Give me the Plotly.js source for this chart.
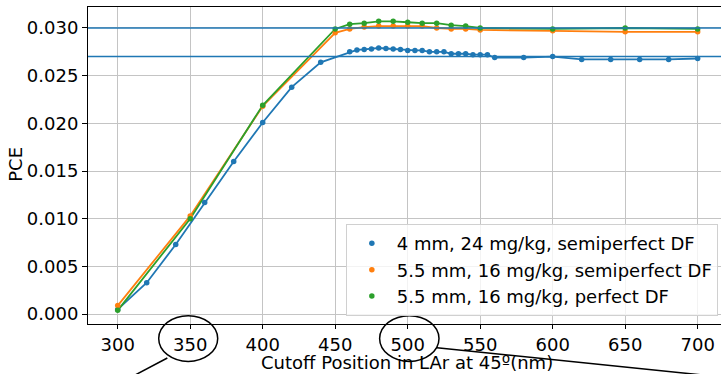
<!DOCTYPE html>
<html>
<head>
<meta charset="utf-8">
<script src="https://cdn.plot.ly/plotly-3.0.1.min.js"></script>
<style>html,body{margin:0;padding:0;background:#fff;}#chart{width:721px;height:374px;}</style>
</head>
<body>
<div id="chart"></div>
<script>
// Series 1: 4 mm, 24 mg/kg, semiperfect DF
const xBlue = [300,320,340,360,380,400,420,440,460,465,470,475,480,485,490,495,500,505,510,515,520,525,530,535,540,545,550,555,560,580,600,620,640,660,680,700];
const yBlue = [0.0005,0.0033,0.0073,0.0117,0.0160,0.0201,0.0238,0.0264,0.0275,0.0277,0.02775,0.0278,0.0279,0.02785,0.0278,0.02775,0.02765,0.02765,0.02765,0.0275,0.0275,0.0275,0.0273,0.0273,0.0273,0.0272,0.0272,0.0272,0.0269,0.0269,0.0270,0.0267,0.0267,0.0267,0.0267,0.0268];
// Series 2 and 3 share positions
const xDF = [300,350,400,450,460,470,480,490,500,510,520,530,540,550,600,650,700];
const yOrange = [0.0009,0.0103,0.0218,0.0295,0.0299,0.0301,0.0302,0.0302,0.0302,0.0302,0.0300,0.0299,0.0299,0.0298,0.0297,0.0296,0.0296];
const yGreen = [0.0004,0.0100,0.0219,0.0299,0.0304,0.0305,0.0307,0.0307,0.0306,0.0305,0.0305,0.0303,0.0302,0.0300,0.0299,0.0300,0.0299];
const names = ["4 mm, 24 mg/kg, semiperfect DF","5.5 mm, 16 mg/kg, semiperfect DF","5.5 mm, 16 mg/kg, perfect DF"];
const refLines = [0.030, 0.027];
const xTicks = [300,350,400,450,500,550,600,650,700];
const yTicks = [0,0.005,0.010,0.015,0.020,0.025,0.030];
const yTickText = ["0.000","0.005","0.010","0.015","0.020","0.025","0.030"];
const xTitle = 'Cutoff Position in LAr at 45º(nm)';
const yTitle = 'PCE';

const colors = ["#1f77b4","#ff7f0e","#2ca02c"];
const series = [[xBlue,yBlue],[xDF,yOrange],[xDF,yGreen]];
const traces = [];
series.forEach((s,i)=>{
  traces.push({x:s[0],y:s[1],mode:'lines',type:'scatter',line:{color:colors[i],width:1.8},showlegend:false,hoverinfo:'skip'});
});
series.forEach((s,i)=>{
  traces.push({x:s[0],y:s[1],mode:'markers',type:'scatter',name:names[i],marker:{color:colors[i],size:5.5}});
});

const shapes = refLines.map(v=>({type:'line',xref:'paper',yref:'y',x0:0,x1:1,y0:v,y1:v,line:{color:'#1f77b4',width:1.5},layer:'above'}));
// hand-drawn style circles and pointer lines
shapes.push({type:'circle',xref:'paper',yref:'paper',x0:0.1117,x1:0.2049,y0:0.0262,y1:-0.118,line:{color:'#000',width:1.5}});
shapes.push({type:'circle',xref:'paper',yref:'paper',x0:0.4607,x1:0.5545,y0:0.0262,y1:-0.118,line:{color:'#000',width:1.5}});
shapes.push({type:'line',xref:'paper',yref:'paper',x0:0.1253,y0:-0.1073,x1:0.0664,y1:-0.1694,line:{color:'#000',width:1.5}});
shapes.push({type:'line',xref:'paper',yref:'paper',x0:0.5513,y0:-0.075,x1:1.0126,y1:-0.1694,line:{color:'#000',width:1.5}});

const font = {family:'DejaVu Sans, sans-serif',size:18,color:'#000'};
const annotations = [
  {text:xTitle,xref:'paper',yref:'paper',x:0.504,y:-0.122,xanchor:'center',yanchor:'middle',showarrow:false,font:font},
  {text:yTitle,xref:'paper',yref:'paper',x:-0.1137,y:0.5025,xanchor:'center',yanchor:'middle',textangle:-90,showarrow:false,font:font}
];
const layout = {
  width:721,height:374,
  margin:{l:88,r:0,t:7,b:50},
  paper_bgcolor:'#fff',plot_bgcolor:'#fff',
  font:font,
  showlegend:true,
  legend:{x:0.995,xanchor:'right',y:0.025,yanchor:'bottom',bgcolor:'rgba(255,255,255,0.8)',bordercolor:'#d0d0d0',borderwidth:1,font:font,itemwidth:40},
  xaxis:{range:[279.5,716.1],tickvals:xTicks,ticktext:xTicks.map(String),showgrid:true,gridcolor:'#c4c4c4',gridwidth:1,
    showline:true,mirror:true,linecolor:'#000',linewidth:1,ticks:'outside',ticklen:4,tickcolor:'#000',zeroline:false,tickfont:font},
  yaxis:{range:[-0.00103,0.0322],tickvals:yTicks,ticktext:yTickText,showgrid:true,gridcolor:'#c4c4c4',gridwidth:1,
    showline:true,mirror:false,linecolor:'#000',linewidth:1,ticks:'outside',ticklen:5,tickcolor:'#000',zeroline:false,tickfont:font},
  annotations:annotations,
  shapes:shapes
};
Plotly.newPlot('chart',traces,layout,{staticPlot:true,displayModeBar:false});
</script>
</body>
</html>
